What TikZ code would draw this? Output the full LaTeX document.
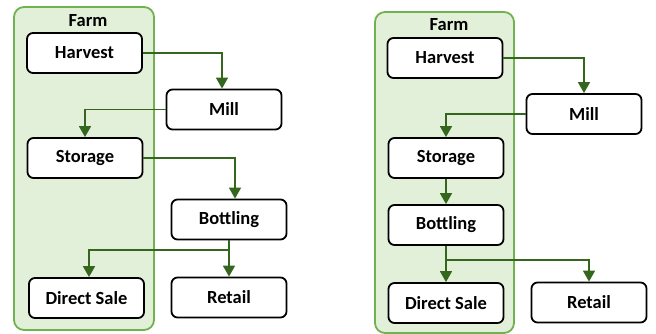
\documentclass[tikz,border=0pt]{standalone}
\usepackage{fontspec}
\setmainfont{Carlito}
\usepackage{tikz}
\usetikzlibrary{arrows.meta, positioning}
\definecolor{farmborder}{RGB}{112, 178, 78}
\definecolor{farmfill}{RGB}{226, 240, 217}
\definecolor{flowgreen}{RGB}{52, 102, 30}

\begin{document}
\begin{tikzpicture}[
    x=1pt, y=-1pt,
    every node/.style={font=\fontsize{18.5}{21}\selectfont\bfseries},
    stage/.style={rectangle, rounded corners=6pt, draw=black, line width=1.8pt, fill=white, minimum width=115pt, minimum height=40pt},
    flow/.style={draw=flowgreen, line width=1.6pt, -{Triangle[width=12pt, length=11pt]}}
]
\useasboundingbox (0,0) rectangle (656,334);

% farm containers
\foreach \name/\xa/\ya/\xb/\yb in {lfarm/14/7/154/330, rfarm/375/12/514/333} {
    \draw[farmborder, fill=farmfill, line width=1.8pt, rounded corners=10pt] (\xa,\ya) rectangle (\xb,\yb);
}

% left diagram
\node (lfarmlabel) at (88, 21) {Farm};
\node[stage] (lharvest) at (84.5, 53) {Harvest};
\node[stage] (lmill) at (224, 109.5) {Mill};
\node[stage] (lstorage) at (85, 158) {Storage};
\node[stage] (lbottling) at (229, 219.5) {Bottling};
\node[stage] (ldirect) at (86.5, 298) {Direct Sale};
\node[stage] (lretail) at (229, 297.5) {Retail};
\coordinate (lsplit) at (229, 250);

\draw[flow] (lharvest.east) -| ([xshift=-2pt]lmill.north);
\draw[flow] (lmill.west) -| (lstorage.north);
\draw[flow] (lstorage.east) -| ([xshift=6pt]lbottling.north);
\draw[flow] (lbottling.south) -- (lretail.north);
\draw[flow] (lsplit) -| ([xshift=2.5pt]ldirect.north);

% right diagram
\node (rfarmlabel) at (449, 25) {Farm};
\node[stage] (rharvest) at (445, 58) {Harvest};
\node[stage] (rmill) at (584, 114) {Mill};
\node[stage] (rstorage) at (446, 158) {Storage};
\node[stage] (rbottling) at (446, 225) {Bottling};
\node[stage] (rdirect) at (446, 303) {Direct Sale};
\node[stage] (rretail) at (589, 302.5) {Retail};
\coordinate (rsplit) at (446, 260);

\draw[flow] (rharvest.east) -| (rmill.north);
\draw[flow] (rmill.west) -| (rstorage.north);
\draw[flow] (rstorage.south) -- (rbottling.north);
\draw[flow] (rbottling.south) -- (rdirect.north);
\draw[flow] (rsplit) -| (rretail.north);

\end{tikzpicture}
\end{document}
